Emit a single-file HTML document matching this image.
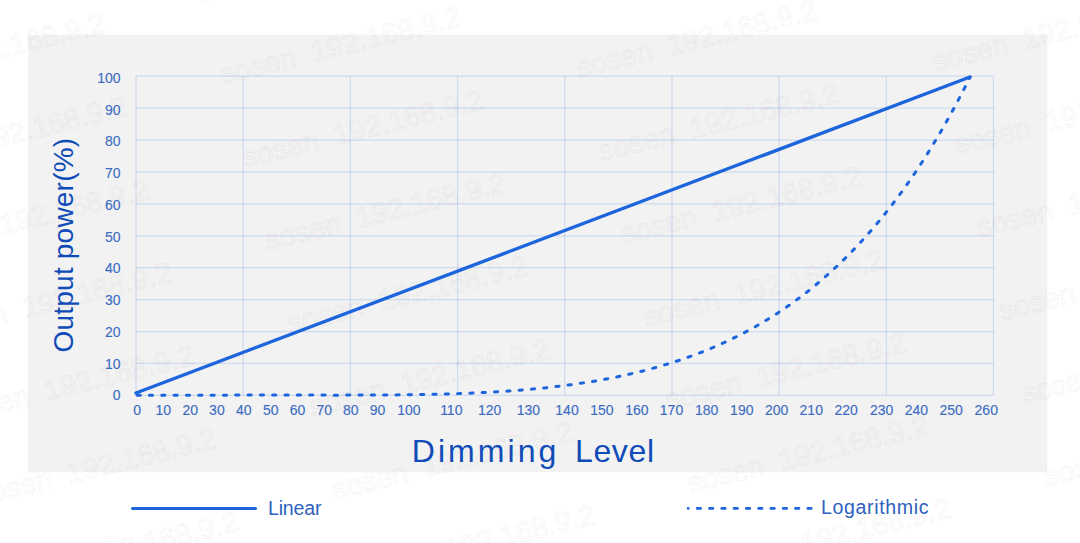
<!DOCTYPE html>
<html><head><meta charset="utf-8">
<style>
html,body{margin:0;padding:0;background:#fff;width:1080px;height:543px;overflow:hidden}
svg{display:block;font-family:"Liberation Sans",sans-serif}
</style></head><body>
<svg width="1080" height="543" viewBox="0 0 1080 543">
<rect x="28" y="34.7" width="1019.2" height="437.6" fill="#f2f2f2"/>
<g stroke="rgb(95,145,225)" stroke-opacity="0.24" stroke-width="1.25" fill="none">
<line x1="136.00" y1="76.20" x2="136.00" y2="395.40"/>
<line x1="243.19" y1="76.20" x2="243.19" y2="395.40"/>
<line x1="350.38" y1="76.20" x2="350.38" y2="395.40"/>
<line x1="457.56" y1="76.20" x2="457.56" y2="395.40"/>
<line x1="564.75" y1="76.20" x2="564.75" y2="395.40"/>
<line x1="671.94" y1="76.20" x2="671.94" y2="395.40"/>
<line x1="779.12" y1="76.20" x2="779.12" y2="395.40"/>
<line x1="886.31" y1="76.20" x2="886.31" y2="395.40"/>
<line x1="993.50" y1="76.20" x2="993.50" y2="395.40"/>
<line x1="136.00" y1="76.20" x2="993.50" y2="76.20"/>
<line x1="136.00" y1="108.12" x2="993.50" y2="108.12"/>
<line x1="136.00" y1="140.04" x2="993.50" y2="140.04"/>
<line x1="136.00" y1="171.96" x2="993.50" y2="171.96"/>
<line x1="136.00" y1="203.88" x2="993.50" y2="203.88"/>
<line x1="136.00" y1="235.80" x2="993.50" y2="235.80"/>
<line x1="136.00" y1="267.72" x2="993.50" y2="267.72"/>
<line x1="136.00" y1="299.64" x2="993.50" y2="299.64"/>
<line x1="136.00" y1="331.56" x2="993.50" y2="331.56"/>
<line x1="136.00" y1="363.48" x2="993.50" y2="363.48"/>
<line x1="136.00" y1="395.40" x2="993.50" y2="395.40"/>
</g>
<g fill="#3b6cc2" font-size="14" stroke="#3b6cc2" stroke-width="0.12">
<text x="120.5" y="82.95" text-anchor="end">100</text>
<text x="120.5" y="114.68" text-anchor="end">90</text>
<text x="120.5" y="146.42" text-anchor="end">80</text>
<text x="120.5" y="178.15" text-anchor="end">70</text>
<text x="120.5" y="209.89" text-anchor="end">60</text>
<text x="120.5" y="241.62" text-anchor="end">50</text>
<text x="120.5" y="273.36" text-anchor="end">40</text>
<text x="120.5" y="305.10" text-anchor="end">30</text>
<text x="120.5" y="336.83" text-anchor="end">20</text>
<text x="120.5" y="368.56" text-anchor="end">10</text>
<text x="120.5" y="400.30" text-anchor="end">0</text>
<text x="137.20" y="414.9" text-anchor="middle">0</text>
<text x="163.20" y="414.9" text-anchor="middle">10</text>
<text x="190.30" y="414.9" text-anchor="middle">20</text>
<text x="216.90" y="414.9" text-anchor="middle">30</text>
<text x="243.75" y="414.9" text-anchor="middle">40</text>
<text x="270.80" y="414.9" text-anchor="middle">50</text>
<text x="297.50" y="414.9" text-anchor="middle">60</text>
<text x="324.20" y="414.9" text-anchor="middle">70</text>
<text x="350.80" y="414.9" text-anchor="middle">80</text>
<text x="377.50" y="414.9" text-anchor="middle">90</text>
<text x="408.90" y="414.9" text-anchor="middle">100</text>
<text x="451.30" y="414.9" text-anchor="middle">110</text>
<text x="489.60" y="414.9" text-anchor="middle">120</text>
<text x="528.40" y="414.9" text-anchor="middle">130</text>
<text x="567.00" y="414.9" text-anchor="middle">140</text>
<text x="601.90" y="414.9" text-anchor="middle">150</text>
<text x="636.90" y="414.9" text-anchor="middle">160</text>
<text x="671.50" y="414.9" text-anchor="middle">170</text>
<text x="706.70" y="414.9" text-anchor="middle">180</text>
<text x="741.80" y="414.9" text-anchor="middle">190</text>
<text x="776.70" y="414.9" text-anchor="middle">200</text>
<text x="811.25" y="414.9" text-anchor="middle">210</text>
<text x="846.10" y="414.9" text-anchor="middle">220</text>
<text x="881.70" y="414.9" text-anchor="middle">230</text>
<text x="916.40" y="414.9" text-anchor="middle">240</text>
<text x="951.10" y="414.9" text-anchor="middle">250</text>
<text x="986.25" y="414.9" text-anchor="middle">260</text>
</g>
<g font-size="29" fill="none" stroke="#000" stroke-opacity="0.055" stroke-width="1.2">
<text transform="translate(-155.3,8.1) rotate(-13.8)">sosen&#160;&#160;192.168.9.2</text>
<text transform="translate(-133.0,91.1) rotate(-13.8)">sosen&#160;&#160;192.168.9.2</text>
<text transform="translate(-110.7,174.1) rotate(-13.8)">sosen&#160;&#160;192.168.9.2</text>
<text transform="translate(-88.4,257.1) rotate(-13.8)">sosen&#160;&#160;192.168.9.2</text>
<text transform="translate(-66.1,340.1) rotate(-13.8)">sosen&#160;&#160;192.168.9.2</text>
<text transform="translate(-43.8,423.1) rotate(-13.8)">sosen&#160;&#160;192.168.9.2</text>
<text transform="translate(-21.5,506.1) rotate(-13.8)">sosen&#160;&#160;192.168.9.2</text>
<text transform="translate(0.8,589.1) rotate(-13.8)">sosen&#160;&#160;192.168.9.2</text>
<text transform="translate(200.7,1.6) rotate(-13.8)">sosen&#160;&#160;192.168.9.2</text>
<text transform="translate(223.0,84.6) rotate(-13.8)">sosen&#160;&#160;192.168.9.2</text>
<text transform="translate(245.3,167.6) rotate(-13.8)">sosen&#160;&#160;192.168.9.2</text>
<text transform="translate(267.6,250.6) rotate(-13.8)">sosen&#160;&#160;192.168.9.2</text>
<text transform="translate(289.9,333.6) rotate(-13.8)">sosen&#160;&#160;192.168.9.2</text>
<text transform="translate(312.2,416.6) rotate(-13.8)">sosen&#160;&#160;192.168.9.2</text>
<text transform="translate(334.5,499.6) rotate(-13.8)">sosen&#160;&#160;192.168.9.2</text>
<text transform="translate(356.8,582.6) rotate(-13.8)">sosen&#160;&#160;192.168.9.2</text>
<text transform="translate(556.7,-4.9) rotate(-13.8)">sosen&#160;&#160;192.168.9.2</text>
<text transform="translate(579.0,78.1) rotate(-13.8)">sosen&#160;&#160;192.168.9.2</text>
<text transform="translate(601.3,161.1) rotate(-13.8)">sosen&#160;&#160;192.168.9.2</text>
<text transform="translate(623.6,244.1) rotate(-13.8)">sosen&#160;&#160;192.168.9.2</text>
<text transform="translate(645.9,327.1) rotate(-13.8)">sosen&#160;&#160;192.168.9.2</text>
<text transform="translate(668.2,410.1) rotate(-13.8)">sosen&#160;&#160;192.168.9.2</text>
<text transform="translate(690.5,493.1) rotate(-13.8)">sosen&#160;&#160;192.168.9.2</text>
<text transform="translate(712.8,576.1) rotate(-13.8)">sosen&#160;&#160;192.168.9.2</text>
<text transform="translate(912.7,-11.4) rotate(-13.8)">sosen&#160;&#160;192.168.9.2</text>
<text transform="translate(935.0,71.6) rotate(-13.8)">sosen&#160;&#160;192.168.9.2</text>
<text transform="translate(957.3,154.6) rotate(-13.8)">sosen&#160;&#160;192.168.9.2</text>
<text transform="translate(979.6,237.6) rotate(-13.8)">sosen&#160;&#160;192.168.9.2</text>
<text transform="translate(1001.9,320.6) rotate(-13.8)">sosen&#160;&#160;192.168.9.2</text>
<text transform="translate(1024.2,403.6) rotate(-13.8)">sosen&#160;&#160;192.168.9.2</text>
<text transform="translate(1046.5,486.6) rotate(-13.8)">sosen&#160;&#160;192.168.9.2</text>
<text transform="translate(1068.8,569.6) rotate(-13.8)">sosen&#160;&#160;192.168.9.2</text>
</g>
<path d="M136.0,395.28 L140.0,395.30 L144.0,395.30 L148.0,395.31 L152.0,395.31 L156.0,395.31 L160.0,395.31 L164.0,395.31 L168.0,395.30 L172.0,395.29 L176.0,395.28 L180.0,395.27 L184.0,395.26 L188.0,395.25 L192.0,395.24 L196.0,395.22 L200.0,395.21 L204.0,395.20 L208.0,395.19 L212.0,395.17 L216.0,395.16 L220.0,395.15 L224.0,395.14 L228.0,395.13 L232.0,395.12 L236.0,395.11 L240.0,395.11 L244.0,395.10 L248.0,395.10 L252.0,395.09 L256.0,395.09 L260.0,395.09 L264.0,395.08 L268.0,395.08 L272.0,395.08 L276.0,395.08 L280.0,395.08 L284.0,395.09 L288.0,395.09 L292.0,395.09 L296.0,395.10 L300.0,395.10 L304.0,395.10 L308.0,395.11 L312.0,395.11 L316.0,395.12 L320.0,395.12 L324.0,395.12 L328.0,395.12 L332.0,395.13 L336.0,395.13 L340.0,395.13 L344.0,395.13 L348.0,395.12 L352.0,395.12 L356.0,395.11 L360.0,395.10 L364.0,395.09 L368.0,395.08 L372.0,395.06 L376.0,395.04 L380.0,395.02 L384.0,395.00 L388.0,394.97 L392.0,394.94 L396.0,394.90 L400.0,394.86 L404.0,394.81 L408.0,394.76 L412.0,394.71 L416.0,394.65 L420.0,394.58 L424.0,394.51 L428.0,394.43 L432.0,394.34 L436.0,394.25 L440.0,394.15 L444.0,394.04 L448.0,393.93 L452.0,393.81 L456.0,393.68 L460.0,393.54 L464.0,393.39 L468.0,393.23 L472.0,393.06 L476.0,392.88 L480.0,392.69 L484.0,392.49 L488.0,392.28 L492.0,392.06 L496.0,391.83 L500.0,391.58 L504.0,391.32 L508.0,391.05 L512.0,390.76 L516.0,390.46 L520.0,390.15 L524.0,389.82 L528.0,389.47 L532.0,389.11 L536.0,388.74 L540.0,388.34 L544.0,387.93 L548.0,387.51 L552.0,387.06 L556.0,386.60 L560.0,386.12 L564.0,385.61 L568.0,385.09 L572.0,384.55 L576.0,383.99 L580.0,383.40 L584.0,382.79 L588.0,382.16 L592.0,381.51 L596.0,380.84 L600.0,380.14 L604.0,379.41 L608.0,378.66 L612.0,377.88 L616.0,377.08 L620.0,376.25 L624.0,375.39 L628.0,374.50 L632.0,373.58 L636.0,372.64 L640.0,371.66 L644.0,370.65 L648.0,369.61 L652.0,368.53 L656.0,367.43 L660.0,366.28 L664.0,365.10 L668.0,363.89 L672.0,362.64 L676.0,361.35 L680.0,360.03 L684.0,358.66 L688.0,357.25 L692.0,355.81 L696.0,354.32 L700.0,352.78 L704.0,351.21 L708.0,349.59 L712.0,347.92 L716.0,346.21 L720.0,344.45 L724.0,342.63 L728.0,340.77 L732.0,338.86 L736.0,336.90 L740.0,334.88 L744.0,332.81 L748.0,330.68 L752.0,328.50 L756.0,326.25 L760.0,323.95 L764.0,321.59 L768.0,319.17 L772.0,316.68 L776.0,314.13 L780.0,311.51 L784.0,308.82 L788.0,306.07 L792.0,303.24 L796.0,300.35 L800.0,297.38 L804.0,294.33 L808.0,291.21 L812.0,288.01 L816.0,284.73 L820.0,281.37 L824.0,277.93 L828.0,274.40 L832.0,270.79 L836.0,267.09 L840.0,263.29 L844.0,259.41 L848.0,255.43 L852.0,251.35 L856.0,247.18 L860.0,242.91 L864.0,238.53 L868.0,234.05 L872.0,229.47 L876.0,224.77 L880.0,219.97 L884.0,215.05 L888.0,210.02 L892.0,204.87 L896.0,199.60 L900.0,194.20 L904.0,188.68 L908.0,183.04 L912.0,177.26 L916.0,171.35 L920.0,165.31 L924.0,159.13 L928.0,152.81 L932.0,146.34 L936.0,139.73 L940.0,132.97 L944.0,126.05 L948.0,118.98 L952.0,111.75 L956.0,104.36 L960.0,96.81 L964.0,89.09 L968.0,81.19 L970.0,77.18" fill="none" stroke="#1d65dd" stroke-width="3.0" stroke-linecap="round" stroke-dasharray="3.2 9.127" stroke-dashoffset="-1.06"/>
<line x1="136" y1="393" x2="970" y2="77" stroke="#1d65dd" stroke-width="3.4" stroke-linecap="round"/>
<text x="411.8" y="461.8" font-size="32" fill="#0f4cb8" textLength="144.5" lengthAdjust="spacing">Dimming</text>
<text x="575" y="461.8" font-size="32" fill="#0f4cb8" textLength="79" lengthAdjust="spacing">Level</text>
<text transform="translate(72.9,352.4) rotate(-90)" font-size="28" fill="#0f4cb8" textLength="214.5" lengthAdjust="spacing">Output power(%)</text>
<line x1="132.5" y1="508.4" x2="255.5" y2="508.4" stroke="#1d65dd" stroke-width="3" stroke-linecap="round"/>
<text x="268" y="514.5" font-size="19.6" fill="#2e62be" textLength="53.5" lengthAdjust="spacing">Linear</text>
<path d="M688.2,508.4 L688.2,508.4 M697.25,508.4 L700.55,508.4 M709.54,508.4 L712.84,508.4 M721.83,508.4 L725.13,508.4 M734.12,508.4 L737.42,508.4 M746.41,508.4 L749.71,508.4 M758.70,508.4 L762.00,508.4 M770.99,508.4 L774.29,508.4 M783.28,508.4 L786.58,508.4 M795.57,508.4 L798.87,508.4 M807.86,508.4 L811.16,508.4" stroke="#1d65dd" stroke-width="2.9" stroke-linecap="round"/>
<text x="821" y="514.4" font-size="19.6" fill="#2e62be" textLength="107.5" lengthAdjust="spacing">Logarithmic</text>
</svg>
</body></html>
